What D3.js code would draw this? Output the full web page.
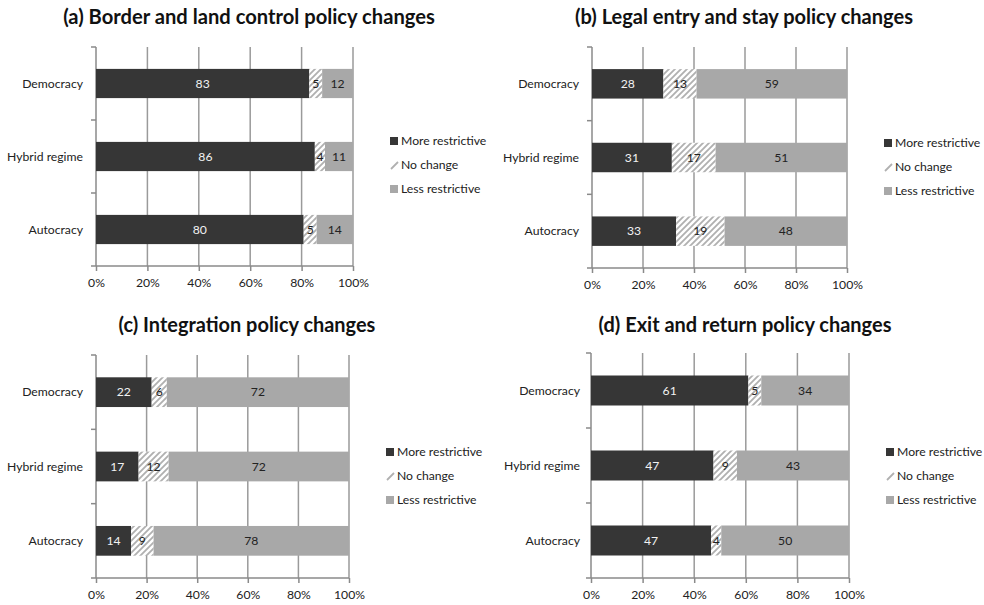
<!DOCTYPE html>
<html>
<head>
<meta charset="utf-8">
<script src="https://cdn.jsdelivr.net/npm/d3@7"></script>
<style>
  body { margin: 0; background: #fff; }
  svg { display: block; font-family: Lato, "Noto Sans", sans-serif; }
</style>
</head>
<body>
<svg id="chart" width="984" height="605"></svg>
<script>
// Regime types (top to bottom) and response categories
const regimes = ["Democracy", "Hybrid regime", "Autocracy"];
const seriesNames = ["More restrictive", "No change", "Less restrictive"];
const tickLabels = ["0%", "20%", "40%", "60%", "80%", "100%"];
const titles = [
  "(a) Border and land control policy changes",
  "(b) Legal entry and stay policy changes",
  "(c) Integration policy changes",
  "(d) Exit and return policy changes"
];

// Percent of policy changes per regime: [Democracy, Hybrid regime, Autocracy]
const borderMore = [83, 86, 80];
const borderNone = [5, 4, 5];
const borderLess = [12, 11, 14];

const legalMore = [28, 31, 33];
const legalNone = [13, 17, 19];
const legalLess = [59, 51, 48];

const integrationMore = [22, 17, 14];
const integrationNone = [6, 12, 9];
const integrationLess = [72, 72, 78];

const exitMore = [61, 47, 47];
const exitNone = [5, 9, 4];
const exitLess = [34, 43, 50];

const panelValues = [
  [borderMore, borderNone, borderLess],
  [legalMore, legalNone, legalLess],
  [integrationMore, integrationNone, integrationLess],
  [exitMore, exitNone, exitLess]
];

// Panel geometry
const layout = [
  { x0: 96,  x1: 353, y0: 47,  y1: 266, titleX: 249, titleY: 24,  titleW: 372, labelX: 83,  legX: 390, legY: 141 },
  { x0: 592, x1: 847, y0: 47,  y1: 268, titleX: 744, titleY: 24,  titleW: 338, labelX: 579, legX: 884, legY: 143 },
  { x0: 96,  x1: 349, y0: 355, y1: 578, titleX: 247, titleY: 332, titleW: 257, labelX: 83,  legX: 386, legY: 452 },
  { x0: 591, x1: 849, y0: 353, y1: 578, titleX: 745, titleY: 332, titleW: 293, labelX: 580, legX: 886, legY: 452 }
];

const colors = ["#363636", "url(#hatch)", "#a8a8a8"];
const labelColors = ["#f2f2f2", "#222", "#222"];

const svg = d3.select("#chart");

// Font size for small text, sized so "Hybrid regime" spans about 76px
const probe = svg.append("text").attr("font-size", 20).text("Hybrid regime");
const smallSize = 20 * 76 / probe.node().getComputedTextLength();
probe.remove();

// Diagonal hatch used for the "No change" segments
const defs = svg.append("defs");
const pat = defs.append("pattern")
  .attr("id", "hatch")
  .attr("patternUnits", "userSpaceOnUse")
  .attr("width", 6).attr("height", 6);
pat.append("rect").attr("width", 6).attr("height", 6).attr("fill", "#fff");
pat.append("path")
  .attr("d", "M-1,1 l2,-2 M0,6 l6,-6 M5,7 l2,-2")
  .attr("stroke", "#b0b0b0").attr("stroke-width", 1.8);

panelValues.forEach((vals, p) => {
  const L = layout[p];
  const g = svg.append("g");

  const x = d3.scaleLinear().domain([0, 100]).range([L.x0, L.x1]);
  const y = d3.scaleBand().domain(regimes).range([L.y0, L.y1]).paddingInner(0.6).paddingOuter(0.3);
  const band = (L.y1 - L.y0) / regimes.length;

  // Title, sized to its measured span
  const t = g.append("text")
    .attr("x", L.titleX).attr("y", L.titleY)
    .attr("text-anchor", "middle")
    .attr("font-size", 20).attr("font-weight", 700).attr("fill", "#111")
    .text(titles[p]);
  t.attr("font-size", 20 * L.titleW / t.node().getComputedTextLength());

  // Vertical gridlines
  g.selectAll(".grid").data(d3.range(20, 101, 20)).join("line")
    .attr("x1", d => x(d)).attr("x2", d => x(d))
    .attr("y1", L.y0).attr("y2", L.y1)
    .attr("stroke", "#9a9a9a").attr("stroke-width", 1.5);

  // Bottom axis
  const xAxis = d3.axisBottom(x).tickValues(d3.range(0, 101, 20))
    .tickFormat((d, i) => tickLabels[i]).tickSize(5).tickSizeOuter(0);
  const ax = g.append("g").attr("transform", `translate(0,${L.y1})`).call(xAxis);
  ax.select(".domain").attr("stroke", "#8a8a8a").attr("stroke-width", 1.5)
    .attr("d", `M${L.x0 - 5},0H${L.x1}`);
  ax.selectAll(".tick line").attr("stroke", "#8a8a8a").attr("stroke-width", 1.5);
  ax.selectAll(".tick text").attr("font-size", smallSize).attr("fill", "#222")
    .attr("font-family", "Lato, sans-serif").attr("dy", "1.1em");

  // Left axis line with category boundary ticks
  g.append("line")
    .attr("x1", L.x0).attr("x2", L.x0).attr("y1", L.y0).attr("y2", L.y1)
    .attr("stroke", "#8a8a8a").attr("stroke-width", 1.5);
  g.selectAll(".ytick").data(d3.range(0, regimes.length)).join("line")
    .attr("x1", L.x0 - 5).attr("x2", L.x0)
    .attr("y1", d => L.y0 + d * band).attr("y2", d => L.y0 + d * band)
    .attr("stroke", "#8a8a8a").attr("stroke-width", 1.5);

  // Category labels
  g.selectAll(".cat").data(regimes).join("text")
    .attr("x", L.labelX).attr("y", d => y(d) + y.bandwidth() / 2)
    .attr("dy", "0.35em").attr("text-anchor", "end")
    .attr("font-size", smallSize).attr("fill", "#222")
    .text(d => d);

  // Stacked 100% bars
  regimes.forEach((r, ri) => {
    const row = vals.map(s => s[ri]);
    const total = d3.sum(row);
    let acc = 0;
    row.forEach((v, si) => {
      const a = acc / total * 100, b = (acc + v) / total * 100;
      acc += v;
      g.append("rect")
        .attr("x", x(a)).attr("y", y(r))
        .attr("width", x(b) - x(a)).attr("height", y.bandwidth())
        .attr("fill", colors[si]);
      g.append("text")
        .attr("x", (x(a) + x(b)) / 2).attr("y", y(r) + y.bandwidth() / 2)
        .attr("dy", "0.35em").attr("text-anchor", "middle")
        .attr("font-size", smallSize).attr("fill", labelColors[si])
        .text(v);
    });
  });

  // Legend
  seriesNames.forEach((s, si) => {
    const ly = L.legY + si * 24;
    if (si === 1) {
      g.append("path")
        .attr("d", `M${L.legX + 1},${ly + 4} L${L.legX + 8},${ly - 3}`)
        .attr("stroke", "#b0b0b0").attr("stroke-width", 1.8);
    } else {
      g.append("rect")
        .attr("x", L.legX).attr("y", ly - 4)
        .attr("width", 8).attr("height", 8)
        .attr("fill", colors[si]);
    }
    g.append("text")
      .attr("x", L.legX + 11).attr("y", ly).attr("dy", "0.35em")
      .attr("font-size", smallSize).attr("fill", "#222")
      .text(s);
  });
});
</script>
</body>
</html>
